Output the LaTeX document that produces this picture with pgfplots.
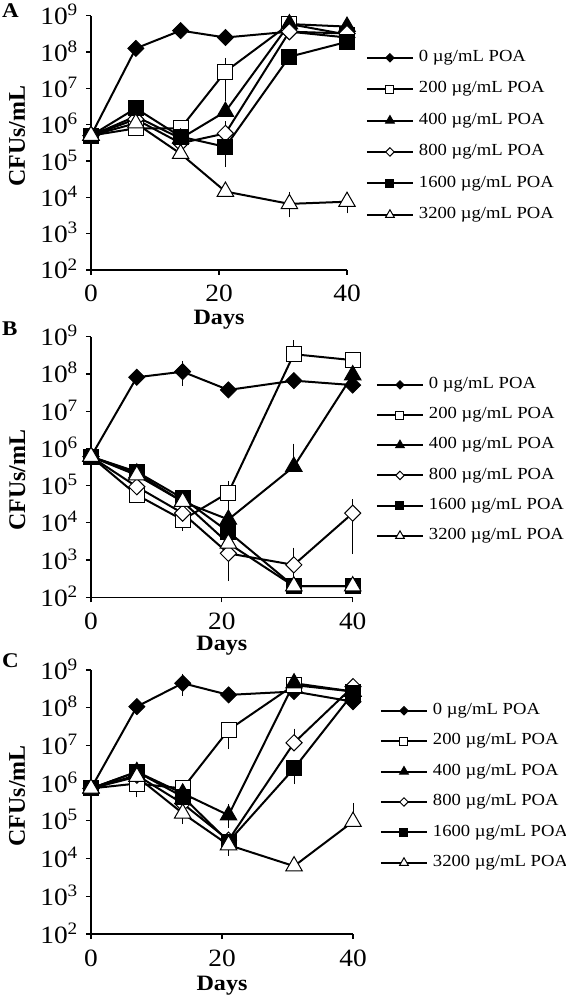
\documentclass[border=0pt]{standalone}
\usepackage{fontspec}
\setmainfont{Liberation Serif}[FakeStretch=1.1]
\newfontfamily\plainserif{Liberation Serif}
\usepackage{pgfplots}
\pgfplotsset{compat=1.18}
\pgfplotsset{
  panel/.style={
    scale only axis, anchor=north west,
    xmin=0, xmax=40, ymin=2, ymax=9,
    axis x line=bottom, axis y line=left,
    axis line style={-, line width=1.3bp, black},
    tick align=outside, major tick length=5bp, tick style={line width=1.2bp, black},
    xtick={0,20,40}, xticklabels={0,20,40},
    ytick={2,3,4,5,6,7,8,9},
    yticklabels={10\textsuperscript{2},10\textsuperscript{3},10\textsuperscript{4},10\textsuperscript{5},10\textsuperscript{6},10\textsuperscript{7},10\textsuperscript{8},10\textsuperscript{9}},
    xticklabel style={font=\fontsize{25}{25}\selectfont, inner sep=0pt, anchor=base, yshift=-27bp},
    yticklabel style={font=\fontsize{25}{25}\selectfont, inner sep=0pt, anchor=base east, xshift=-8bp, yshift=-9bp},
    xlabel={Days}, ylabel={CFUs/mL},
    xlabel style={font=\bfseries\fontsize{22}{22}\selectfont, inner sep=0pt, anchor=base, at={(axis description cs:0.5,0)}},
    ylabel style={font=\plainserif\bfseries\fontsize{24}{24}\selectfont, inner sep=0pt, anchor=base},
    clip=false,
    legend cell align=left,
    legend image code/.code={
      \draw[line width=2bp, mark repeat=2, mark phase=2, legmark]
        plot coordinates {(0bp,0bp) (23bp,0bp) (46bp,0bp)};
      \path (51bp,0bp);
    },
    legend style={draw=none, fill=none, anchor=north west, inner sep=0pt, outer sep=0pt,
      column sep=0pt, nodes={inner sep=0pt, text height=11.5bp, text depth=4bp, font=\fontsize{17}{17}\selectfont}},
  },
  s0/.style={black, line width=2bp, mark=square*, mark size=5.7bp, mark options={rotate=45, draw=black, fill=black, line width=0.8bp},
    /tikz/legmark/.style={mark size=3bp}},
  s200/.style={black, line width=2bp, mark=square*, mark size=7.5bp, mark options={draw=black, fill=white, line width=1bp},
    /tikz/legmark/.style={mark size=4bp}},
  s400/.style={black, line width=2bp, mark=triangle*, mark size=9.5bp, mark options={draw=black, fill=black, line width=1bp},
    /tikz/legmark/.style={mark size=5bp}},
  s800/.style={black, line width=2bp, mark=square*, mark size=5.7bp, mark options={rotate=45, draw=black, fill=white, line width=1bp},
    /tikz/legmark/.style={mark size=3bp}},
  s1600/.style={black, line width=2bp, mark=square*, mark size=7.5bp, mark options={draw=black, fill=black, line width=1bp},
    /tikz/legmark/.style={mark size=4bp}},
  s3200/.style={black, line width=2bp, mark=triangle*, mark size=9.5bp, mark options={draw=black, fill=white, line width=1bp},
    /tikz/legmark/.style={mark size=5bp}},
  eb/.style={forget plot, only marks, mark=none, black,
    /pgfplots/error bars/y dir=both, /pgfplots/error bars/y explicit,
    /pgfplots/error bars/error bar style={line width=1bp, black, solid},
    /pgfplots/error bars/error mark options={rotate=0, mark size=4bp, line width=1bp, black}},
}
\tikzset{legmark/.style={}}
\begin{document}
\begin{tikzpicture}
\path[use as bounding box] (0,0) rectangle (566bp,-997bp);
\node[font=\bfseries\fontsize{21}{21}\selectfont, anchor=base west, inner sep=0pt] at (2bp,-17bp) {A};
\node[font=\bfseries\fontsize{21}{21}\selectfont, anchor=base west, inner sep=0pt] at (2bp,-335bp) {B};
\node[font=\bfseries\fontsize{21}{21}\selectfont, anchor=base west, inner sep=0pt] at (2bp,-667bp) {C};

% ---------------- Panel A  (y values are log10 CFU/mL)
\begin{axis}[panel, at={(91bp,-15.7bp)}, width=256bp, height=254.3bp,
  xlabel style={yshift=-55bp},
  ylabel style={at={(axis description cs:-0.258,0.527)}},
  legend style={at={(axis description cs:1.074,0.865)}, row sep=15.9bp}]
\addplot[eb] coordinates {(21,8.40) +- (0,0.11) (21,7.46) += (0,0.27) -= (0,0.69) (21,5.76) += (0,0.23)
  (21,5.39) += (0,0.22) -= (0,0.45) (31,3.82) += (0,0.22) -= (0,0.26) (40,3.88) += (0,0.15) -= (0,0.21)};
\addplot[s0] coordinates {(0,5.70) (7,8.10) (14,8.59) (21,8.40) (31,8.56) (40,8.40)};
\addplot[s200] coordinates {(0,5.70) (7,5.90) (14,5.90) (21,7.46) (31,8.77) (40,8.48)};
\addplot[s400] coordinates {(0,5.70) (7,6.23) (14,5.62) (21,6.36) (31,8.77) (40,8.70)};
\addplot[s800] coordinates {(0,5.70) (7,6.15) (14,5.49) (21,5.76) (31,8.56) (40,8.51)};
\addplot[s1600] coordinates {(0,5.70) (7,6.45) (14,5.67) (21,5.39) (31,7.87) (40,8.28)};
\addplot[s3200] coordinates {(0,5.70) (7,6.04) (14,5.20) (21,4.16) (31,3.82) (40,3.88)};
\legend{0 µg/mL POA, 200 µg/mL POA, 400 µg/mL POA, 800 µg/mL POA, 1600 µg/mL POA, 3200 µg/mL POA}
\end{axis}

% ---------------- Panel B
\begin{axis}[panel, at={(91bp,-336.7bp)}, width=261.7bp, height=260.6bp,
  xlabel style={yshift=-53bp},
  ylabel style={at={(axis description cs:-0.252,0.45)}},
  legend style={at={(axis description cs:1.089,0.845)}, row sep=14.7bp}]
\addplot[eb] coordinates {(14,8.06) += (0,0.18) -= (0,0.27) (31,7.82) +- (0,0.09) (14,4.08) -= (0,0.18)
  (21,4.81) += (0,0.21) -= (0,0.4) (31,8.53) += (0,0.27) (21,4.09) += (0,0.25) (31,5.51) += (0,0.51)
  (21,3.18) += (0,0.24) -= (0,0.64) (31,2.87) += (0,0.36) (40,4.26) += (0,0.26) -= (0,0.99) (31,2.30) += (0,0.25)};
\addplot[s0] coordinates {(0,5.78) (7,7.91) (14,8.06) (21,7.57) (31,7.82) (40,7.70)};
\addplot[s200] coordinates {(0,5.78) (7,4.75) (14,4.08) (21,4.81) (31,8.53) (40,8.37)};
\addplot[s400] coordinates {(0,5.78) (7,5.33) (14,4.57) (21,4.09) (31,5.51) (40,7.97)};
\addplot[s800] coordinates {(0,5.78) (7,4.97) (14,4.26) (21,3.18) (31,2.87) (40,4.26)};
\addplot[s1600] coordinates {(0,5.78) (7,5.37) (14,4.66) (21,3.76) (31,2.30) (40,2.30)};
\addplot[s3200] coordinates {(0,5.78) (7,5.28) (14,4.57) (21,3.45) (31,2.30) (40,2.30)};
\legend{0 µg/mL POA, 200 µg/mL POA, 400 µg/mL POA, 800 µg/mL POA, 1600 µg/mL POA, 3200 µg/mL POA}
\end{axis}

% ---------------- Panel C
\begin{axis}[panel, at={(91bp,-670bp)}, width=262bp, height=264bp,
  xlabel style={yshift=-56bp},
  ylabel style={at={(axis description cs:-0.252,0.523)}},
  legend style={at={(axis description cs:1.103,0.875)}, row sep=14.9bp}]
\addplot[eb] coordinates {(14,8.65) += (0,0.15) -= (0,0.22) (7,5.99) -= (0,0.26) (21,7.41) -= (0,0.40)
  (21,5.15) += (0,0.18) -= (0,0.22) (31,7.07) += (0,0.27) (31,6.39) -= (0,0.31) (40,4.98) += (0,0.39)
  (14,5.20) -= (0,0.18) (21,4.36) -= (0,0.18)};
\addplot[s0] coordinates {(0,5.86) (7,8.03) (14,8.65) (21,8.34) (31,8.43) (40,8.16)};
\addplot[s200] coordinates {(0,5.86) (7,5.99) (14,5.86) (21,7.41) (31,8.60) (40,8.43)};
\addplot[s400] coordinates {(0,5.86) (7,6.30) (14,5.73) (21,5.15) (31,8.65) (40,8.43)};
\addplot[s800] coordinates {(0,5.86) (7,6.21) (14,5.46) (21,4.49) (31,7.07) (40,8.56)};
\addplot[s1600] coordinates {(0,5.86) (7,6.30) (14,5.64) (21,4.45) (31,6.39) (40,8.38)};
\addplot[s3200] coordinates {(0,5.86) (7,6.17) (14,5.20) (21,4.36) (31,3.80) (40,4.98)};
\legend{0 µg/mL POA, 200 µg/mL POA, 400 µg/mL POA, 800 µg/mL POA, 1600 µg/mL POA, 3200 µg/mL POA}
\end{axis}
\end{tikzpicture}
\end{document}
